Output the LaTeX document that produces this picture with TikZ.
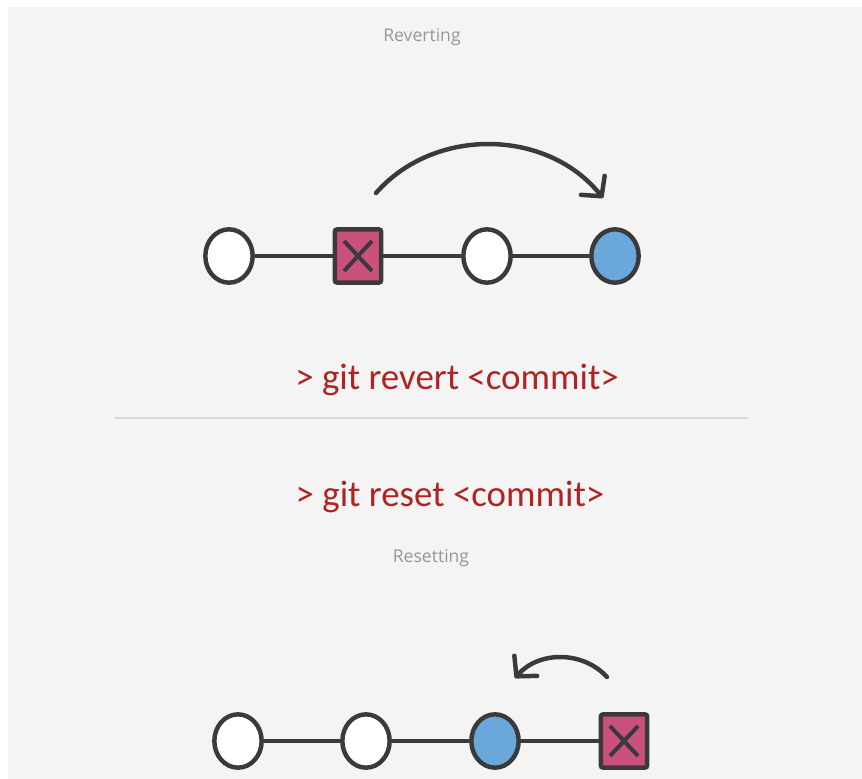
\documentclass[tikz,border=0pt]{standalone}
\usepackage{fontspec}
\usetikzlibrary{shapes.geometric,arrows.meta}
\newfontfamily\cmdfont{Carlito}
\newfontfamily\labelfont{Open Sans}
\definecolor{bggray}{RGB}{244,244,244}
\definecolor{inkgray}{RGB}{58,58,58}
\definecolor{droppink}{RGB}{204,80,125}
\definecolor{headblue}{RGB}{106,168,220}
\definecolor{cmdred}{RGB}{175,35,35}
\definecolor{capgray}{RGB}{150,150,150}

\begin{document}
\begin{tikzpicture}[x=0.03cm, y=-0.03cm]
        \tikzstyle{commit}=[ellipse, fill=white, draw=inkgray, line width=3.8pt, minimum width=1.42cm, minimum height=1.6cm, inner sep=0pt]
        \tikzstyle{head}=[commit, fill=headblue]
        \tikzstyle{dropped}=[rectangle, rounded corners=2pt, fill=droppink, draw=inkgray, line width=3.8pt, minimum width=1.39cm, minimum height=1.6cm, inner sep=0pt]
        \tikzstyle{edge}=[inkgray, line width=3.6pt]
        \tikzstyle{cross}=[inkgray, line width=3.4pt]
        \tikzstyle{arc}=[inkgray, line width=3.8pt, line cap=round, -{Straight Barb[round, length=12pt, width=26pt]}]
        \tikzstyle{cmd}=[text=cmdred, font=\cmdfont\fontsize{31.5}{36}\selectfont]
        \tikzstyle{caption}=[text=capgray, font=\labelfont\fontsize{15}{18}\selectfont]

        \useasboundingbox (0,0) rectangle (862,779);
        \fill[bggray] (8,7) rectangle (862,779);

        % reverting
        \node[caption] (revlabel) at (422,37) {Reverting};
        \node[commit] (c1) at (229,256) {};
        \node[dropped] (x1) at (358,256) {};
        \node[commit] (c3) at (487,256) {};
        \node[head] (c4) at (615,256) {};
        \draw[edge] (c1) -- (x1) -- (c3) -- (c4);
        \draw[cross] (x1.center) ++(-14,-15) -- ++(28,30);
        \draw[cross] (x1.center) ++(14,-15) -- ++(-28,30);
        \coordinate (a1) at (376,193);
        \coordinate (a2) at (603,198);
        \draw[arc] (a1) to[bend left=50] (a2);

        \node[cmd] (revert) at (457,380) {> git revert <commit>};
        \draw[gray!30, line width=1pt] (115,418) -- (748,418);
        \node[cmd] (reset) at (450,497) {> git reset <commit>};

        % resetting
        \node[caption] (reslabel) at (431,558) {Resetting};
        \node[commit] (r1) at (238,741) {};
        \node[commit] (r2) at (366,741) {};
        \node[head] (r3) at (495,741) {};
        \node[dropped] (rx) at (624,741) {};
        \draw[edge] (r1) -- (r2) -- (r3) -- (rx);
        \draw[cross] (rx.center) ++(-14,-15) -- ++(28,30);
        \draw[cross] (rx.center) ++(14,-15) -- ++(-28,30);
        \coordinate (b1) at (607,677);
        \coordinate (b2) at (515,678);
        \draw[arc] (b1) to[bend right=48] (b2);
    \end{tikzpicture}
\end{document}
